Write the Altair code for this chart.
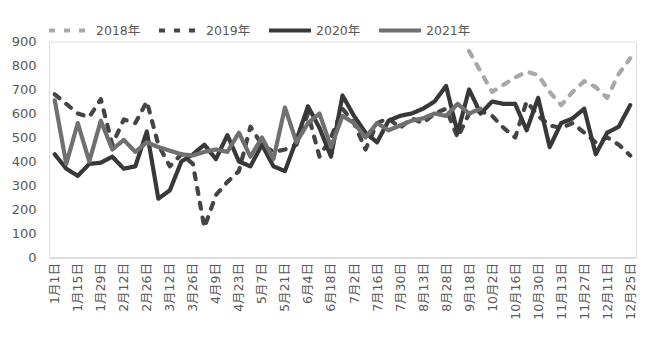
import altair as alt
import pandas as pd

tick_labels = ["1月1日", "1月15日", "1月29日", "2月12日", "2月26日", "3月12日", "3月26日",
               "4月9日", "4月23日", "5月7日", "5月21日", "6月4日", "6月18日", "7月2日",
               "7月16日", "7月30日", "8月13日", "8月28日", "9月18日", "10月2日", "10月16日",
               "10月30日", "11月13日", "11月27日", "12月11日", "12月25日"]

series_names = ["2018年", "2019年", "2020年", "2021年"]

# weekly values (week index 36..50 for 2018)
s2018_start = 36
s2018 = [860, 775, 690, 720, 750, 775, 760, 690, 635, 690, 735, 710, 665, 765, 830]

s2019 = [680, 640, 600, 585, 660, 470, 575, 560, 650, 470, 380, 430, 390, 125, 260,
         315, 360, 545, 470, 440, 450, 470, 600, 420, 500, 620, 560, 450, 560, 580,
         540, 580, 560, 600, 620, 500, 600, 610, 590, 540, 500, 650, 590, 550, 540,
         560, 520, 480, 500, 470, 425]

s2020 = [430, 370, 340, 390, 395, 420, 370, 380, 525, 245, 280, 400, 430, 470, 410,
         510, 400, 380, 470, 380, 360, 490, 630, 540, 420, 675, 590, 520, 480, 570,
         590, 600, 620, 650, 715, 520, 700, 600, 650, 640, 640, 530, 665, 460, 560,
         580, 620, 430, 520, 545, 635]

s2021 = [655, 390, 560, 400, 570, 450, 490, 440, 480, 460, 445, 430, 425, 440, 450,
         440, 520, 420, 500, 410, 625, 480, 560, 600, 460, 590, 560, 500, 560, 530,
         550, 570, 580, 600, 590, 640, 600, 620]

rows = []
for i, v in enumerate(s2018):
    rows.append({"idx": s2018_start + i, "value": v, "series": "2018年", "ord": 0})
for i, v in enumerate(s2019):
    rows.append({"idx": i, "value": v, "series": "2019年", "ord": 1})
for i, v in enumerate(s2020):
    rows.append({"idx": i, "value": v, "series": "2020年", "ord": 2})
for i, v in enumerate(s2021):
    rows.append({"idx": i, "value": v, "series": "2021年", "ord": 3})
df = pd.DataFrame(rows)

label_arr = "[" + ",".join("'" + t + "'" for t in tick_labels) + "]"

FONT = "DejaVu Sans, Noto Sans CJK SC"

chart = alt.Chart(df).mark_line(strokeWidth=4.2, strokeCap="round", strokeJoin="round").encode(
    x=alt.X("idx:Q",
            scale=alt.Scale(domain=[-0.5, 50.5], nice=False, zero=False),
            axis=alt.Axis(values=list(range(0, 51, 2)), labelExpr=label_arr + "[datum.value/2]",
                          labelAngle=-90, labelFontSize=12.5, labelColor="#595959", labelFont=FONT,
                          labelPadding=5, ticks=False, grid=False, domainColor="#d9d9d9",
                          domainWidth=1.5, title=None, labelOverlap=False)),
    y=alt.Y("value:Q",
            scale=alt.Scale(domain=[0, 900], nice=False),
            axis=alt.Axis(values=list(range(0, 901, 100)), labelFontSize=13, labelColor="#595959",
                          labelFont=FONT, labelPadding=13, ticks=False, grid=False, domain=False,
                          title=None)),
    color=alt.Color("series:N",
                    scale=alt.Scale(domain=series_names,
                                    range=["#a8a8a8", "#454545", "#383838", "#707070"]),
                    legend=alt.Legend(title=None, orient="none", direction="horizontal",
                                      legendX=-2, legendY=-34, symbolType="stroke",
                                      symbolSize=1764, symbolStrokeWidth=4,
                                      labelFontSize=12.5, labelFont=FONT, labelColor="#595959",
                                      labelOffset=3, columnPadding=10)),
    strokeDash=alt.StrokeDash("series:N",
                              scale=alt.Scale(domain=series_names,
                                              range=[[6, 9], [6, 9], [1, 0], [1, 0]]),
                              legend=None),
    order=alt.Order("ord:Q"),
    detail="series:N",
).properties(
    width=587, height=216,
    padding={"left": 49, "top": 41.5, "right": 24, "bottom": 90},
    autosize=alt.AutoSizeParams(type="none"),
).configure_view(stroke=None).configure(background="white")

chart.save("out.html", embed_options={"renderer": "svg", "actions": False})
